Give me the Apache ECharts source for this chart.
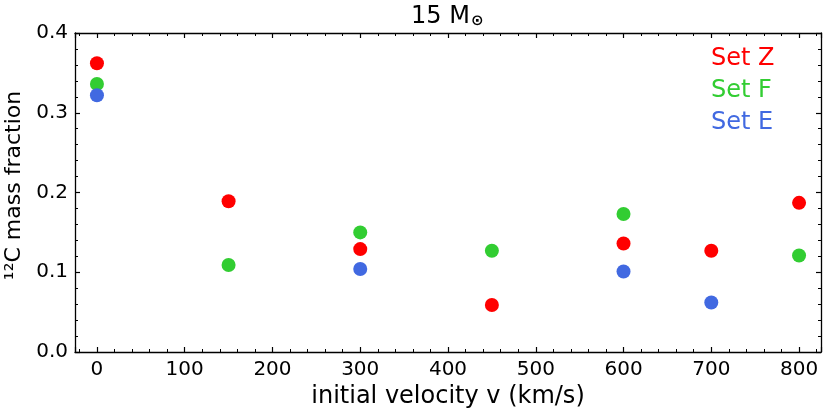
<!DOCTYPE html>
<html>
<head>
<meta charset="utf-8">
<script src="https://cdn.jsdelivr.net/npm/echarts@6/dist/echarts.min.js"></script>
<style>
  html, body { margin: 0; padding: 0; background: #fff; }
  #chart { width: 830px; height: 415px; }
</style>
</head>
<body>
<div id="chart"></div>
<script>
// initial velocity (km/s) and 12C mass fraction per set
var zVel = [0, 150, 300, 450, 600, 700, 800];
var zC12 = [0.362, 0.189, 0.129, 0.059, 0.136, 0.127, 0.187];
var fVel = [0, 150, 300, 450, 600, 800];
var fC12 = [0.336, 0.109, 0.150, 0.127, 0.173, 0.121];
var eVel = [0, 300, 600, 700];
var eC12 = [0.322, 0.104, 0.101, 0.062];

var setNames = ['Set Z', 'Set F', 'Set E'];
var setColors = ['#ff0000', '#32cd32', '#4169e1'];

function pairs(xs, ys) {
  var out = [];
  for (var i = 0; i < xs.length; i++) {
    out.push([xs[i], ys[i]]);
  }
  return out;
}

var chart = echarts.init(document.getElementById('chart'), null, { renderer: 'canvas' });

var FONT = 'DejaVu Sans';
var AXIS_COLOR = '#000';

var xCommon = {
  type: 'value',
  min: -25,
  max: 825,
  splitNumber: 8,
  splitLine: { show: false },
  axisLine: { onZero: false, lineStyle: { color: AXIS_COLOR, width: 1.3 } },
  axisTick: { inside: true, length: 5, lineStyle: { color: AXIS_COLOR, width: 1.2 } },
  minorTick: { show: true, splitNumber: 5, length: 3, lineStyle: { color: AXIS_COLOR, width: 1 } }
};

var yCommon = {
  type: 'value',
  min: 0,
  max: 0.4,
  interval: 0.1,
  splitLine: { show: false },
  axisLine: { onZero: false, lineStyle: { color: AXIS_COLOR, width: 1.3 } },
  axisTick: { inside: true, length: 5, lineStyle: { color: AXIS_COLOR, width: 1.2 } },
  minorTick: { show: true, splitNumber: 5, length: 3, lineStyle: { color: AXIS_COLOR, width: 1 } }
};

var option = {
  backgroundColor: '#ffffff',
  animation: false,
  textStyle: { fontFamily: FONT },
  title: {
    // centred over the plot area, not the whole canvas
    text: '{a|15 M}{b|⊙}',
    left: 406,
    top: -1,
    textStyle: {
      rich: {
        a: { fontFamily: FONT, fontSize: 24, color: '#000', fontWeight: 'normal' },
        b: { fontFamily: FONT, fontSize: 15, color: '#000', padding: [10, 0, 0, 1] }
      }
    }
  },
  legend: {
    orient: 'vertical',
    left: 701,
    top: 42,
    icon: 'none',
    itemWidth: 0,
    itemHeight: 24,
    itemGap: 8,
    data: setNames.map(function (n, i) {
      return { name: n, textStyle: { color: setColors[i], fontSize: 24, fontFamily: FONT } };
    })
  },
  grid: {
    left: 75,
    right: 9,
    top: 33,
    bottom: 63,
    containLabel: false,
    outerBoundsMode: 'none'
  },
  xAxis: [
    Object.assign({}, xCommon, {
      position: 'bottom',
      name: 'initial velocity v (km/s)',
      nameLocation: 'middle',
      nameGap: 30,
      nameTextStyle: { fontSize: 24, color: '#000', fontFamily: FONT },
      axisLabel: {
        showMinLabel: false,
        showMaxLabel: false,
        margin: 8,
        fontSize: 20,
        color: '#000',
        fontFamily: FONT
      }
    }),
    Object.assign({}, xCommon, {
      position: 'top',
      axisLabel: { show: false }
    })
  ],
  yAxis: [
    Object.assign({}, yCommon, {
      position: 'left',
      name: '¹²C mass fraction',
      nameLocation: 'middle',
      nameGap: 50,
      nameTextStyle: { fontSize: 22, color: '#000', fontFamily: FONT, padding: [0, 0, 0, 14] },
      axisLabel: {
        margin: 7,
        fontSize: 20,
        color: '#000',
        fontFamily: FONT,
        formatter: function (v) { return v.toFixed(1); }
      }
    }),
    Object.assign({}, yCommon, {
      position: 'right',
      axisLabel: { show: false }
    })
  ],
  series: [
    { name: setNames[0], type: 'scatter', symbolSize: 14, itemStyle: { color: setColors[0], opacity: 1 }, data: pairs(zVel, zC12) },
    { name: setNames[1], type: 'scatter', symbolSize: 14, itemStyle: { color: setColors[1], opacity: 1 }, data: pairs(fVel, fC12) },
    { name: setNames[2], type: 'scatter', symbolSize: 14, itemStyle: { color: setColors[2], opacity: 1 }, data: pairs(eVel, eC12) }
  ]
};

chart.setOption(option);
</script>
</body>
</html>
